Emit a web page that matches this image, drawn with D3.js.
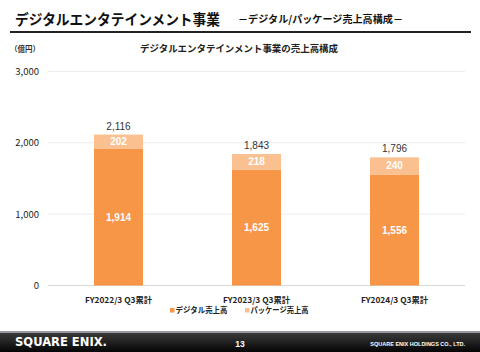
<!DOCTYPE html>
<html><head><meta charset="utf-8">
<script src="https://cdn.jsdelivr.net/npm/d3@7/dist/d3.min.js"></script>
<style>body{margin:0;background:#fff}svg{display:block}</style>
</head><body>
<svg id="c" width="480" height="352"></svg>
<script>
const categories = ["FY2022/3 Q3累計", "FY2023/3 Q3累計", "FY2024/3 Q3累計"];
const digital = [1914, 1625, 1556];
const packaged = [202, 218, 240];
const totals = [2116, 1843, 1796];
const yTicks = [0, 1000, 2000, 3000];
const seriesNames = ["デジタル売上高", "パッケージ売上高"];
const colors = ["#F79646", "#FAC090"];

const svg = d3.select("#c");
const font = "'Noto Sans CJK JP', 'Noto Sans', sans-serif";
svg.style("font-family", font);

// Header
svg.append("text").attr("x", 15).attr("y", 25).attr("font-size", 14.5).attr("font-weight", 700)
  .attr("fill", "#111").attr("textLength", 205).attr("lengthAdjust", "spacingAndGlyphs")
  .text("デジタルエンタテインメント事業");
svg.append("text").attr("x", 238).attr("y", 23).attr("font-size", 10).attr("font-weight", 700)
  .attr("fill", "#111").attr("textLength", 165).attr("lengthAdjust", "spacingAndGlyphs")
  .text("－デジタル/パッケージ売上高構成－");
svg.append("rect").attr("x", 10).attr("y", 31).attr("width", 461).attr("height", 2).attr("fill", "#222");

svg.append("text").attr("x", 10).attr("y", 52).attr("font-size", 7.5).attr("font-weight", 700)
  .attr("fill", "#333").text("（億円）");
svg.append("text").attr("x", 140).attr("y", 52).attr("font-size", 9.5)
  .attr("font-weight", 700).attr("fill", "#222").attr("textLength", 198).attr("lengthAdjust", "spacingAndGlyphs")
  .text("デジタルエンタテインメント事業の売上高構成");

const x = d3.scaleBand().domain(categories).range([49.5, 463.5]).paddingInner(0.645).paddingOuter(0.3225);
const y = d3.scaleLinear().domain([0, 3000]).range([285.5, 71.5]);

// grid
svg.append("g").selectAll("line").data(yTicks).join("line")
  .attr("x1", 48).attr("x2", 465).attr("y1", d => y(d)).attr("y2", d => y(d))
  .attr("stroke", d => d === 0 ? "#d9d9d9" : "#ececec").attr("stroke-width", 1);

// y axis
const yAxis = svg.append("g").attr("transform", "translate(39,0)")
  .call(d3.axisLeft(y).tickValues(yTicks).tickSize(0).tickPadding(0).tickFormat(d3.format(",")));
yAxis.select(".domain").remove();
yAxis.selectAll("text").attr("font-size", 9.5).attr("fill", "#222").attr("font-family", font);

// bars
const stackData = categories.map((c, i) => ({c, digital: digital[i], packaged: packaged[i], total: totals[i]}));
const stack = d3.stack().keys(["digital", "packaged"])(stackData);
const g = svg.append("g");
stack.forEach((layer, li) => {
  g.selectAll(null).data(layer).join("rect")
    .attr("x", d => x(d.data.c)).attr("width", x.bandwidth())
    .attr("y", d => y(d[1])).attr("height", d => y(d[0]) - y(d[1]))
    .attr("fill", colors[li]);
  g.selectAll(null).data(layer).join("text")
    .attr("x", d => x(d.data.c) + x.bandwidth() / 2)
    .attr("y", d => (y(d[0]) + y(d[1])) / 2 + 3.5)
    .attr("text-anchor", "middle").attr("font-size", 10).attr("font-weight", 700)
    .attr("fill", "#fff").attr("font-family", "'Liberation Sans', Arial, sans-serif")
    .text(d => d3.format(",")(d[1] - d[0]));
});
g.selectAll(null).data(stackData).join("text")
  .attr("x", d => x(d.c) + x.bandwidth() / 2).attr("y", d => y(d.total) - 5)
  .attr("text-anchor", "middle").attr("font-size", 10).attr("fill", "#333")
  .attr("font-family", "'Liberation Sans', Arial, sans-serif")
  .text(d => d3.format(",")(d.total));

// x axis
const xAxis = svg.append("g").attr("transform", "translate(0,286)")
  .call(d3.axisBottom(x).tickSize(0).tickPadding(11));
xAxis.select(".domain").remove();
xAxis.selectAll("text").attr("font-size", 8).attr("font-weight", 700).attr("fill", "#222").attr("font-family", font)
  .attr("textLength", 67).attr("lengthAdjust", "spacingAndGlyphs");

// legend
const leg = svg.append("g").attr("transform", "translate(170,313)");
const legX = [0, 75];
const legW = [52, 58];
seriesNames.forEach((n, i) => {
  leg.append("rect").attr("x", legX[i]).attr("y", -5).attr("width", 4.5).attr("height", 4.5).attr("fill", colors[i]);
  leg.append("text").attr("x", legX[i] + 5.5).attr("y", 0).attr("font-size", 8).attr("font-weight", 700)
    .attr("fill", "#222").attr("textLength", legW[i]).attr("lengthAdjust", "spacingAndGlyphs").text(n);
});

// footer
const grad = svg.append("defs").append("linearGradient").attr("id", "fg").attr("x1", 0).attr("x2", 0).attr("y1", 0).attr("y2", 1);
grad.append("stop").attr("offset", 0).attr("stop-color", "#3a3a3a");
grad.append("stop").attr("offset", 1).attr("stop-color", "#050505");
svg.append("rect").attr("x", 0).attr("y", 331).attr("width", 480).attr("height", 2).attr("fill", "#9a98a4");
svg.append("rect").attr("x", 0).attr("y", 333).attr("width", 480).attr("height", 19).attr("fill", "url(#fg)");
svg.append("text").attr("x", 15).attr("y", 346).attr("font-size", 11.5).attr("font-weight", 700)
  .attr("fill", "#fff").attr("font-family", "'DejaVu Sans', sans-serif")
  .attr("textLength", 92).attr("lengthAdjust", "spacingAndGlyphs").text("SQUARE ENIX.");
svg.append("text").attr("x", 240).attr("y", 347).attr("text-anchor", "middle").attr("font-size", 8.5)
  .attr("font-weight", 700).attr("fill", "#fff").attr("font-family", "'Liberation Sans', sans-serif").text("13");
svg.append("text").attr("x", 465).attr("y", 346).attr("text-anchor", "end").attr("font-size", 5.5)
  .attr("font-weight", 700).attr("fill", "#fff").attr("font-family", "'Liberation Sans', sans-serif")
  .text("SQUARE ENIX HOLDINGS CO., LTD.");
</script>
</body></html>
